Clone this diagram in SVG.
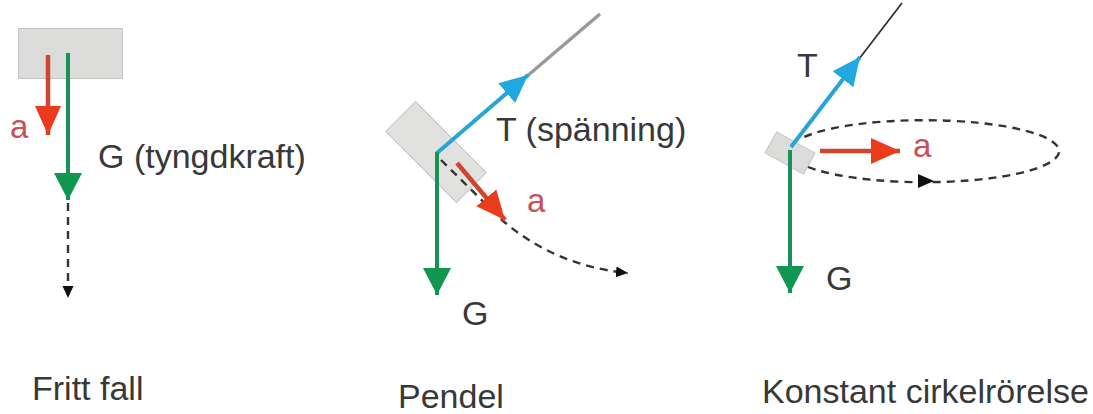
<svg xmlns="http://www.w3.org/2000/svg" width="1093" height="414" viewBox="0 0 1093 414">
<style>
text{font-family:"Liberation Sans",Arial,sans-serif;font-size:34px;fill:#383838}
text.acc{fill:#c8505a;font-size:33px}
.body{fill:#dcdcda;stroke:#c4c4c4;stroke-width:1}
.g{stroke:#17935a;stroke-width:4;fill:none}
.r{stroke:#d0452f;stroke-width:4.5;fill:none}
.b{stroke:#2aa3d8;stroke-width:4;fill:none}
.d{stroke:#333;stroke-width:2.4;stroke-dasharray:8 6;fill:none}
</style>
<defs>
<marker id="hG" markerUnits="userSpaceOnUse" markerWidth="28" markerHeight="30" viewBox="0 -15 28 30" refX="27" refY="0" orient="auto"><path d="M0,-14 L27,0 L0,14 z" fill="#0f9650"/></marker>
<marker id="hR" markerUnits="userSpaceOnUse" markerWidth="30" markerHeight="30" viewBox="0 -15 30 30" refX="29" refY="0" orient="auto"><path d="M0,-13 L29,0 L0,13 z" fill="#ea3b1c"/></marker>
<marker id="hB" markerUnits="userSpaceOnUse" markerWidth="30" markerHeight="30" viewBox="0 -15 30 30" refX="28" refY="0" orient="auto"><path d="M0,-13 L28,0 L0,13 z" fill="#21a8e0"/></marker>
<marker id="hK" markerUnits="userSpaceOnUse" markerWidth="14" markerHeight="14" viewBox="0 -7 14 14" refX="12" refY="0" orient="auto"><path d="M0,-5.5 L12,0 L0,5.5 z" fill="#111"/></marker>
</defs>
<rect width="1093" height="414" fill="#fff"/>

<g id="fritt-fall">
<rect class="body" x="18.5" y="28.5" width="104" height="50"/>
<text class="acc" x="10" y="138">a</text>
<text x="98" y="168">G (tyngdkraft)</text>
<text x="32" y="400">Fritt fall</text>
</g>

<g id="pendel">
<rect class="body" x="-21" y="-50" width="42" height="100" transform="translate(436,152) rotate(-45)" fill-opacity="0.85"/>
<text x="496" y="141">T (spänning)</text>
<text class="acc" x="527" y="212">a</text>
<text x="462" y="325">G</text>
<text x="398" y="408">Pendel</text>
</g>

<g id="cirkel">
<rect class="body" x="-22" y="-12" width="44" height="24" transform="translate(790,153) rotate(29)"/>
<text x="797" y="77">T</text>
<text class="acc" x="913" y="157">a</text>
<text x="826" y="290">G</text>
<text x="762" y="403">Konstant cirkelrörelse</text>
</g>

<g id="connectors">
<line class="r" x1="48" y1="55" x2="48" y2="135" marker-end="url(#hR)"/>
<line class="g" x1="68" y1="53" x2="68" y2="200" marker-end="url(#hG)"/>
<line class="d" x1="68" y1="203" x2="68" y2="298" marker-end="url(#hK)"/>
<path class="d" d="M441,160 L503,221 C535,248 575,268 628,273" marker-end="url(#hK)"/>
<line class="r" x1="457" y1="163" x2="505" y2="220" marker-end="url(#hR)"/>
<line x1="526" y1="77" x2="600" y2="14" stroke="#9a9a9a" stroke-width="3.5"/>
<line class="b" x1="437" y1="153" x2="528" y2="75" marker-end="url(#hB)"/>
<line class="g" x1="437" y1="152" x2="437" y2="295" marker-end="url(#hG)"/>
<path class="d" d="M808,167 A135,31 0 1 0 800,139"/>
<path d="M918,174 L934,181 L918,188 z" fill="#111"/>
<line x1="859" y1="59" x2="902" y2="3" stroke="#333" stroke-width="1.8"/>
<line class="b" x1="791" y1="147" x2="860" y2="57" marker-end="url(#hB)"/>
<line class="r" x1="820" y1="151" x2="900" y2="151" marker-end="url(#hR)"/>
<line class="g" x1="790" y1="150" x2="790" y2="293" marker-end="url(#hG)"/>
</g>
</svg>
